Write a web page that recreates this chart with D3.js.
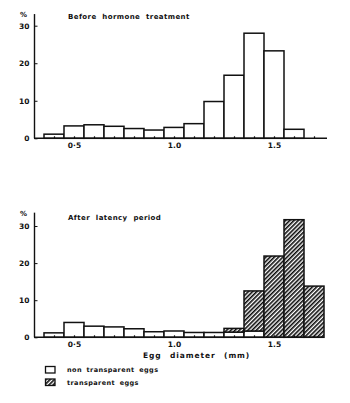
<!DOCTYPE html>
<html>
<head>
<meta charset="utf-8">
<script src="https://cdn.jsdelivr.net/npm/d3@7"></script>
<style>
  html, body { margin: 0; padding: 0; background: #fff; }
  svg text { font-family: "DejaVu Sans", sans-serif; font-weight: bold; fill: #111; }
</style>
</head>
<body>
<svg id="chart" width="350" height="403"></svg>
<script>
// Egg diameter classes (mm), bin centres
const beforeDiameters = [0.4, 0.5, 0.6, 0.7, 0.8, 0.9, 1.0, 1.1, 1.2, 1.3, 1.4, 1.5, 1.6];
const beforePct = [1.1, 3.3, 3.6, 3.2, 2.6, 2.2, 2.9, 3.9, 9.8, 16.8, 28.0, 23.3, 2.4];

const afterDiameters = [0.4, 0.5, 0.6, 0.7, 0.8, 0.9, 1.0, 1.1, 1.2, 1.3, 1.4, 1.5, 1.6, 1.7];
const afterOpaquePct = [1.2, 4.0, 3.0, 2.8, 2.3, 1.5, 1.7, 1.3, 1.3, 1.4, 1.7, 0, 0, 0];
const afterTransparentPct = [0, 0, 0, 0, 0, 0, 0, 0, 0, 1.0, 10.8, 21.9, 31.7, 13.8];

const yTicks = [0, 10, 20, 30];
const xLabelTicks = [0.5, 1.0, 1.5];
const xLabelText = ["0·5", "1.0", "1.5"];
const minorTicks = [0.4, 0.5, 0.6, 0.7, 0.8, 0.9, 1.0, 1.1, 1.2, 1.3, 1.4, 1.5, 1.6, 1.7];

const binWidth = 0.1;
const svg = d3.select("#chart");

// hatch pattern for transparent eggs
const defs = svg.append("defs");
const pat = defs.append("pattern")
  .attr("id", "hatch")
  .attr("patternUnits", "userSpaceOnUse")
  .attr("width", 3).attr("height", 3)
  .attr("patternTransform", "rotate(45)");
pat.append("rect").attr("width", 3).attr("height", 3).attr("fill", "#fff");
pat.append("rect").attr("x", 0).attr("y", 0).attr("width", 1.6).attr("height", 3)
  .attr("fill", "#0a0a0a");

const x = d3.scaleLinear().domain([0.35, 1.75]).range([44, 324]);

function panel(cfg) {
  const y = d3.scaleLinear().domain([0, 30]).range([cfg.base, cfg.top30]);
  const g = svg.append("g");

  // y axis
  const yAxis = d3.axisLeft(y).tickValues(yTicks).tickSize(-3).tickPadding(5)
    .tickFormat(d3.format("d"));
  const ya = g.append("g").attr("transform", `translate(${x(0.3) + 0.5},0)`).call(yAxis);
  ya.select(".domain").remove();
  ya.selectAll(".tick line").attr("stroke", "#111").attr("stroke-width", 1);
  ya.selectAll("text").style("font-size", "7.5px");
  g.append("line")
    .attr("x1", x(0.3) + 0.5).attr("x2", x(0.3) + 0.5)
    .attr("y1", y(cfg.axisTop)).attr("y2", cfg.base)
    .attr("stroke", "#111").attr("stroke-width", 1.4);

  g.append("text").attr("x", 20).attr("y", y(cfg.axisTop) + 3)
    .style("font-size", "7px").text("%");

  // bars: one rect per non-empty segment
  const segs = [];
  cfg.series.forEach(s => {
    cfg.diam.forEach((d, i) => {
      const lo = s.stackOn ? s.stackOn[i] : 0;
      const v = s.values[i];
      if (v > 0) segs.push({ d: d, lo: lo, hi: lo + v, fill: s.fill });
    });
  });
  g.selectAll("rect.bar").data(segs).enter().append("rect")
    .attr("class", "bar")
    .attr("x", s => x(s.d - binWidth / 2))
    .attr("width", x(binWidth) - x(0))
    .attr("y", s => y(s.hi))
    .attr("height", s => y(s.lo) - y(s.hi))
    .attr("fill", s => s.fill)
    .attr("stroke", "#111").attr("stroke-width", 1.5);

  // x axis baseline with small inner ticks at class centres
  const xMinor = d3.axisBottom(x).tickValues(minorTicks).tickSize(-2).tickFormat("");
  const xa = g.append("g").attr("transform", `translate(0,${cfg.base})`).call(xMinor);
  xa.select(".domain").remove();
  xa.selectAll(".tick line").attr("stroke", "#111").attr("stroke-width", 1.2);
  g.append("line")
    .attr("x1", x(0.3)).attr("x2", x(cfg.axisEnd))
    .attr("y1", cfg.base).attr("y2", cfg.base)
    .attr("stroke", "#111").attr("stroke-width", 1.4);

  const xLab = d3.axisBottom(x).tickValues(xLabelTicks).tickSize(0).tickPadding(4)
    .tickFormat((d, i) => xLabelText[i]);
  const xl = g.append("g").attr("transform", `translate(0,${cfg.base})`).call(xLab);
  xl.select(".domain").remove();
  xl.selectAll("text").style("font-size", "7.5px");

  g.append("text").attr("x", 68).attr("y", cfg.titleY)
    .style("font-size", "7px").style("letter-spacing", "0.4px").style("word-spacing", "3px")
    .text(cfg.title);
}

panel({
  base: 138.3, top30: 25.7, axisTop: 33.1, axisEnd: 1.765,
  titleY: 18.5, title: "Before hormone treatment",
  diam: beforeDiameters,
  series: [{ values: beforePct, fill: "#fff" }]
});

panel({
  base: 337.3, top30: 226, axisTop: 33.6, axisEnd: 1.745,
  titleY: 219.5, title: "After latency period",
  diam: afterDiameters,
  series: [
    { values: afterOpaquePct, fill: "#fff" },
    { values: afterTransparentPct, stackOn: afterOpaquePct, fill: "url(#hatch)" }
  ]
});

// axis title
svg.append("text").attr("x", 143).attr("y", 358)
  .style("font-size", "7.5px").style("letter-spacing", "0.9px").style("word-spacing", "5px")
  .text("Egg diameter (mm)");

// legend
const legend = [
  { label: "non transparent eggs", fill: "#fff", y: 366.5 },
  { label: "transparent eggs", fill: "url(#hatch)", y: 379 }
];
const lg = svg.append("g");
lg.selectAll("rect").data(legend).enter().append("rect")
  .attr("x", 45.5).attr("y", d => d.y).attr("width", 9.5).attr("height", 6.5)
  .attr("fill", d => d.fill).attr("stroke", "#111").attr("stroke-width", 1.3);
lg.selectAll("text").data(legend).enter().append("text")
  .attr("x", 67).attr("y", d => d.y + 5.5)
  .style("font-size", "6.5px").style("letter-spacing", "0.4px").style("word-spacing", "2px")
  .text(d => d.label);
</script>
</body>
</html>
